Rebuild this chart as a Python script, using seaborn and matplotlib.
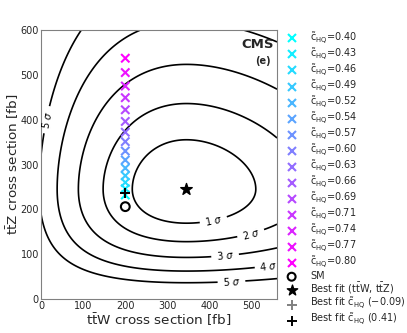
import math
import numpy as np
import pandas as pd
import matplotlib
matplotlib.use("Agg")
import matplotlib.pyplot as plt
import seaborn as sns

# c_HQ scan (ttW fixed, ttZ changes)
chq_values = [0.40, 0.43, 0.46, 0.49, 0.52, 0.54, 0.57, 0.60, 0.63, 0.66, 0.69, 0.71, 0.74, 0.77, 0.80]
ttw_scan = [200] * 15
ttz_scan = [232, 246, 260, 275, 292, 310, 330, 351, 372, 396, 422, 449, 475, 505, 537]

sm_point = (200, 206)
best_fit = (345, 245)
best_chq_neg = (200, 236)
best_chq_pos = (200, 236)

sigma_levels = [1, 2, 3, 4, 5]

# likelihood shape parameters (Poisson-like in each cross section, asymmetric)
n_ttw, a_ttw_dn, a_ttw_up = 28.7, 0.69, 0.65
n_ttz, b_ttz_dn, b_ttz_up = 31.1, 0.80, 0.66

sns.set_style("white")
plt.rcParams["mathtext.fontset"] = "dejavusans"

fig = plt.figure(figsize=(4.07, 3.33), dpi=100)
ax = fig.add_axes([0.1007, 0.102, 0.58, 0.808])

# chi2 surface
gx = np.linspace(0, 560, 500)
gy = np.linspace(0, 600, 500)
X, Y = np.meshgrid(gx, gy)
rx = 1 + np.where(X < best_fit[0], a_ttw_dn, a_ttw_up) * (X - best_fit[0]) / best_fit[0]
ry = 1 + np.where(Y < best_fit[1], b_ttz_dn, b_ttz_up) * (Y - best_fit[1]) / best_fit[1]
chi2 = 2 * n_ttw * (rx - 1 - np.log(rx)) + 2 * n_ttz * (ry - 1 - np.log(ry))

levels = [-2 * math.log(math.erfc(k / math.sqrt(2))) for k in sigma_levels]
cs = ax.contour(X, Y, chi2, levels=levels, colors="black", linewidths=1.2)
fmt = {lv: r"%d $\sigma$" % k for lv, k in zip(levels, sigma_levels)}
ax.clabel(cs, fmt=fmt, inline=True, fontsize=7,
          manual=[(409, 176), (496, 152), (437, 94), (540, 72), (452, 36), (13, 400)])

# scan points
colors = [plt.cm.cool(v) for v in np.linspace(0, 1, len(chq_values))]
labels = [r"$\tilde{\mathrm{c}}_{\mathrm{HQ}}$=%.2f" % c for c in chq_values]
scan = pd.DataFrame({"ttW": ttw_scan, "ttZ": ttz_scan, "label": labels})
sns.scatterplot(data=scan, x="ttW", y="ttZ", hue="label", palette=colors,
                marker="x", s=36, linewidth=1.5, ax=ax, legend=True, zorder=3)
leg = ax.get_legend()
handles = list(leg.legend_handles)
texts = [t.get_text() for t in leg.get_texts()]
leg.remove()

h_sm = ax.scatter(*sm_point, marker="o", s=40, facecolors="none", edgecolors="black",
                  linewidths=1.5, zorder=4)
h_bf = ax.scatter(*best_fit, marker="*", s=75, color="black", zorder=4)
h_neg = ax.scatter(*best_chq_neg, marker="+", s=55, color="grey", linewidths=1.4, zorder=4)
h_pos = ax.scatter(*best_chq_pos, marker="+", s=55, color="black", linewidths=1.4, zorder=5)

handles += [h_sm, h_bf, h_neg, h_pos]
texts += ["SM",
          r"Best fit (t$\bar{\mathrm{t}}$W, t$\bar{\mathrm{t}}$Z)",
          r"Best fit $\tilde{\mathrm{c}}_{\mathrm{HQ}}$ (−0.09)",
          r"Best fit $\tilde{\mathrm{c}}_{\mathrm{HQ}}$ (0.41)"]
ax.legend(handles, texts, loc="upper left", bbox_to_anchor=(1.0, 1.016),
          frameon=False, fontsize=7, labelspacing=0.0, handletextpad=0.9,
          borderaxespad=0.3, borderpad=0.2, markerscale=0.9)

ax.set_xlim(0, 560)
ax.set_ylim(0, 600)
ax.set_xticks([0, 100, 200, 300, 400, 500])
ax.set_yticks([0, 100, 200, 300, 400, 500, 600])
ax.tick_params(length=0, pad=1.5, labelsize=7)
for sp in ax.spines.values():
    sp.set_color("0.5")
ax.set_xlabel(r"t$\bar{\mathrm{t}}$W cross section [fb]", fontsize=9.7, labelpad=0)
ax.set_ylabel(r"t$\bar{\mathrm{t}}$Z cross section [fb]", fontsize=9.7)
ax.yaxis.set_label_coords(-0.085, 0.5)

ax.text(0.985, 0.945, "CMS", transform=ax.transAxes, ha="right", va="center",
        fontsize=9.5, fontweight="bold")
ax.text(0.975, 0.885, "(e)", transform=ax.transAxes, ha="right", va="center",
        fontsize=7, fontweight="bold")

plt.savefig("out.png", dpi=100)
